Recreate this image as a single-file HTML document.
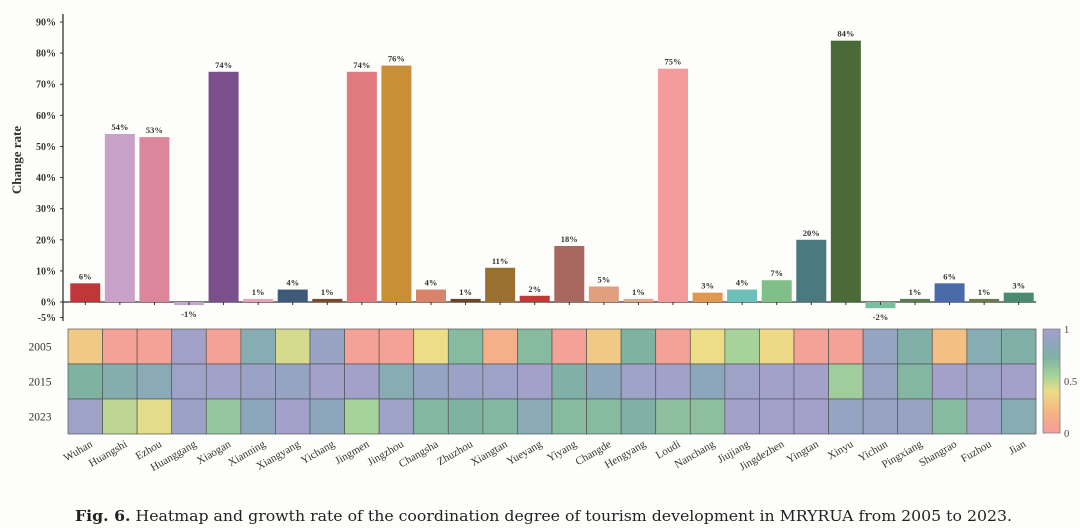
<!DOCTYPE html>
<html><head><meta charset="utf-8"><style>
html,body{margin:0;padding:0;background:#fdfdfb;}
svg{display:block;font-family:"Liberation Serif",serif;}
</style></head><body>
<svg id="chart" width="1080" height="528" viewBox="0 0 1080 528">
<defs>
<linearGradient id="cbar" x1="0" y1="1" x2="0" y2="0">
<stop offset="0" stop-color="#f59c9c"/><stop offset="0.2" stop-color="#f5b582"/><stop offset="0.4" stop-color="#ecdd86"/><stop offset="0.55" stop-color="#a6d39a"/><stop offset="0.72" stop-color="#7eb3a2"/><stop offset="0.86" stop-color="#8da6be"/><stop offset="1" stop-color="#a79fcc"/>
</linearGradient>
</defs>
<g id="bars"></g>
<g id="heat"></g>
<text x="75" y="521" font-size="15" fill="#222" font-family="DejaVu Serif, serif" textLength="937" lengthAdjust="spacingAndGlyphs"><tspan font-weight="bold">Fig. 6.</tspan>  Heatmap and growth rate of the coordination degree of tourism development in MRYRUA from 2005 to 2023.</text>
</svg>
<script>
const cities=["Wuhan","Huangshi","Ezhou","Huanggang","Xiaogan","Xianning","Xiangyang","Yichang","Jingmen","Jingzhou","Changsha","Zhuzhou","Xiangtan","Yueyang","Yiyang","Changde","Hengyang","Loudi","Nanchang","Jiujiang","Jingdezhen","Yingtan","Xinyu","Yichun","Pingxiang","Shangrao","Fuzhou","Jian"];
const changeRate=[6,54,53,-1,74,1,4,1,74,76,4,1,11,2,18,5,1,75,3,4,7,20,84,-2,1,6,1,3];
const barColors=["#c0373a","#c9a0c8","#dc869c","#c4a6d0","#7a4f8a","#e6a4bc","#3f5a78","#7a4a2a","#e07a7e","#c98f38","#d98468","#6b4428","#9a7030","#c03a38","#a86860","#e0a080","#eea088","#f49c9c","#e09850","#6cc0b8","#80c088","#4a7a80","#4a6a38","#7ac0a0","#5a7a50","#4a6aa8","#6a7a50","#4a8a70"];
const yTicks=[-5,0,10,20,30,40,50,60,70,80,90];
const years=["2005","2015","2023"];
const heat2005=[0.3,0.05,0.05,0.97,0.05,0.8,0.45,0.92,0.05,0.05,0.4,0.68,0.15,0.68,0.05,0.3,0.72,0.05,0.4,0.55,0.38,0.05,0.05,0.9,0.75,0.25,0.8,0.75];
const heat2015=[0.72,0.78,0.82,0.95,0.97,0.93,0.9,0.97,0.98,0.8,0.9,0.93,0.95,0.98,0.75,0.85,0.95,0.97,0.85,0.95,0.97,0.98,0.58,0.92,0.7,0.98,0.95,0.98];
const heat2023=[0.95,0.5,0.42,0.93,0.62,0.85,0.98,0.85,0.55,0.95,0.7,0.72,0.7,0.82,0.68,0.68,0.75,0.65,0.65,0.97,0.98,0.98,0.9,0.92,0.92,0.68,0.97,0.8];
const heatRows=[heat2005,heat2015,heat2023];
const cbTicks=["0","0.5","1"];

const NS="http://www.w3.org/2000/svg";
function mk(tag,attrs,parent,txt){const e=document.createElementNS(NS,tag);for(const k in attrs)e.setAttribute(k,attrs[k]);if(txt!==undefined)e.textContent=txt;parent.appendChild(e);return e;}
const X0=68,X1=1036,cw=(X1-X0)/cities.length;
const xC=i=>X0+cw*(i+0.5);
const y=v=>302-v*3.111;
const bars=document.getElementById('bars');
let ax=mk('line',{x1:63,y1:14,x2:63,y2:321,stroke:'#333','stroke-width':1.3},bars);


let xa=mk('line',{x1:63,y1:y(0),x2:X1,y2:y(0),stroke:'#333','stroke-width':1.3},bars);


yTicks.forEach(t=>{
  mk('line',{x1:60,y1:y(t),x2:63,y2:y(t),stroke:'#333'},bars);
  const l=mk('text',{x:56,y:y(t)+3.5,'text-anchor':'end','font-size':10,'font-weight':'bold',fill:'#333'},bars,t+'%');
  
  
});
const yt=mk('text',{x:21,y:160,'text-anchor':'middle','font-size':13,'font-weight':'bold',fill:'#333',transform:'rotate(-90 21 160)'},bars,'Change rate');


changeRate.forEach((v,i)=>{
  const bw=30,x=xC(i)-bw/2;
  const top=Math.min(y(v),y(0)),h=Math.abs(y(v)-y(0));
  const r=mk('rect',{x:x,y:top,width:bw,height:Math.max(h,2),fill:barColors[i]},bars);
  
  
  mk('line',{x1:xC(i),y1:y(0),x2:xC(i),y2:y(0)+3,stroke:'#333'},bars);
  const ly=v>=0?y(v)-4:y(v)+12;
  const t=mk('text',{x:xC(i),y:ly,'text-anchor':'middle','font-size':8.5,'font-weight':'bold',fill:'#333'},bars,v+'%');
  
  
});
const heat=document.getElementById('heat');
const stops=[[0,[245,156,156]],[0.2,[245,181,130]],[0.4,[236,221,134]],[0.55,[166,211,154]],[0.72,[126,179,162]],[0.86,[141,166,190]],[1,[167,159,204]]];
function cmap(v){for(let k=1;k<stops.length;k++){if(v<=stops[k][0]){const a=stops[k-1],b=stops[k],f=(v-a[0])/(b[0]-a[0]);return 'rgb('+a[1].map((c,j)=>Math.round(c+(b[1][j]-c)*f)).join(',')+')';}}return 'rgb(167,159,204)';}
const rowY=[329,364,399,434];
heatRows.forEach((row,r)=>{
  row.forEach((v,i)=>{
    const c=mk('rect',{x:X0+cw*i,y:rowY[r],width:cw,height:rowY[r+1]-rowY[r],fill:cmap(v),stroke:'#555','stroke-width':0.7},heat);
    
    
  });
  const yl=mk('text',{x:40,y:(rowY[r]+rowY[r+1])/2+4,'text-anchor':'middle','font-size':11.5,fill:'#333'},heat,years[r]);
  
  
});
cities.forEach((c,i)=>{
  const tx=xC(i)+8,ty=446;
  const l=mk('text',{x:tx,y:ty,'text-anchor':'end','font-size':11,fill:'#333',transform:'rotate(-30 '+tx+' '+ty+')'},heat,c);
  
  
});
const cb=mk('rect',{x:1043,y:329,width:17,height:104,fill:'url(#cbar)',stroke:'#777','stroke-width':0.7},heat);


cbTicks.forEach((t,k)=>{
  const ty=433-k*52;
  const l=mk('text',{x:1064,y:ty+4,'font-size':10.5,fill:'#444'},heat,t);
  
  
});
</script>
</body></html>
